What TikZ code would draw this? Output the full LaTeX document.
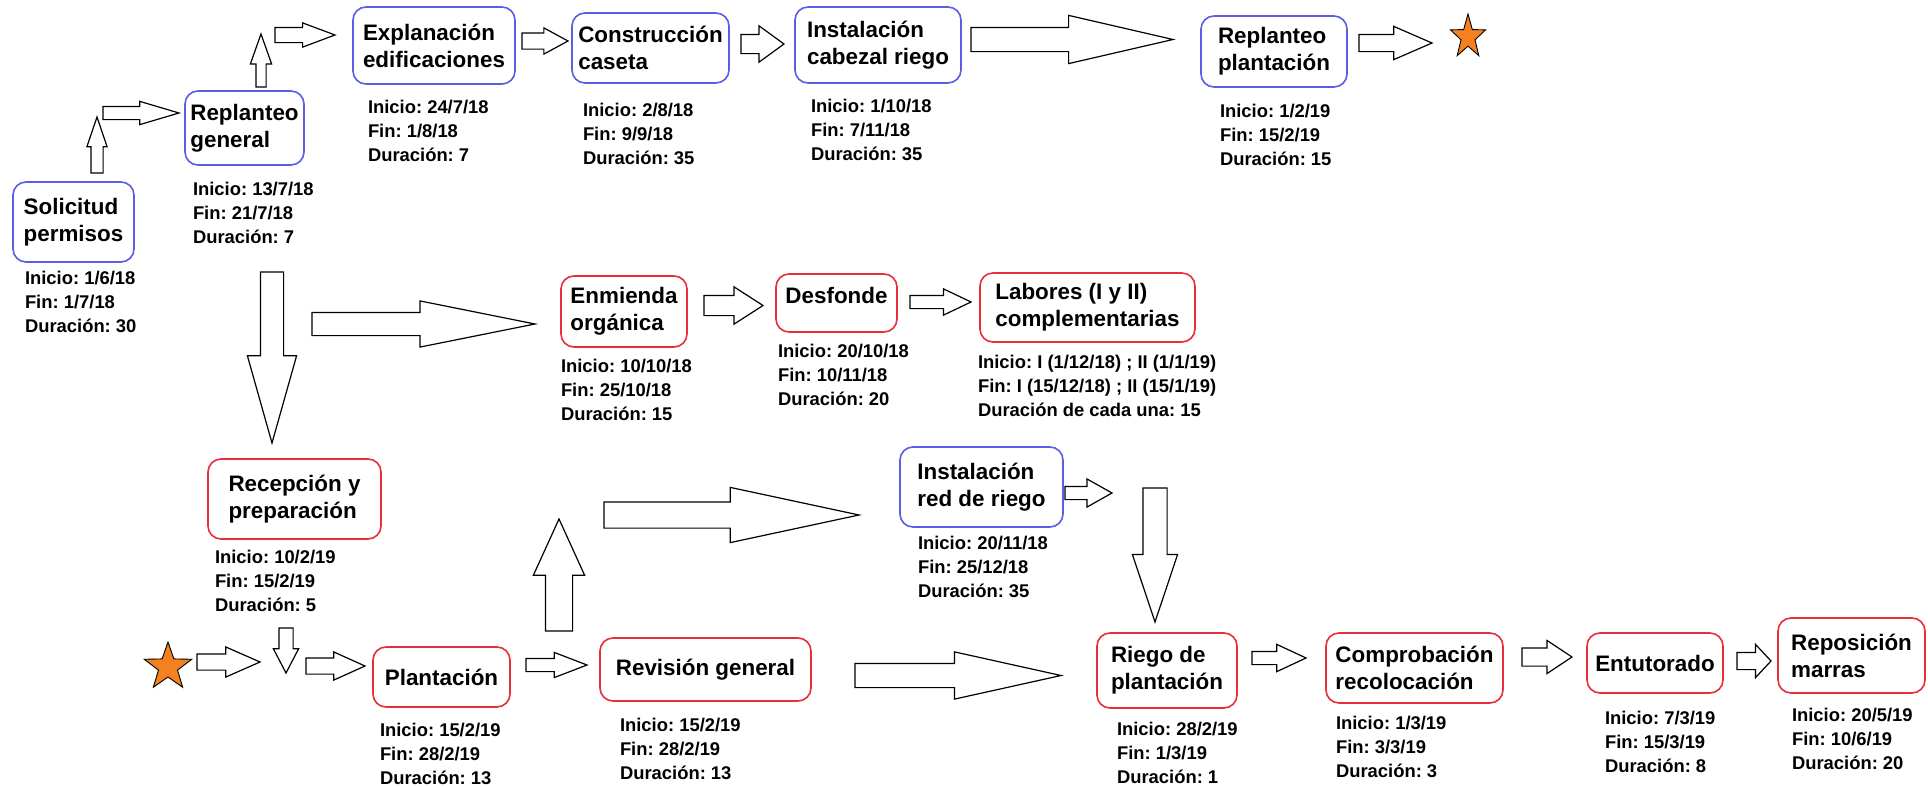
\documentclass[tikz,border=0pt]{standalone}
\usepackage{fontspec}
\setmainfont{Liberation Sans}
\frenchspacing
\usetikzlibrary{positioning,shapes.arrows,shapes.geometric}

\definecolor{boxblue}{RGB}{92,92,228}
\definecolor{boxred}{RGB}{232,46,58}
\definecolor{starorange}{RGB}{245,128,32}

\newcommand{\titlefont}{\fontsize{22.4}{27}\selectfont\bfseries}
\newcommand{\infofont}{\fontsize{18.4}{23.7}\selectfont\bfseries}

\tikzset{
  task/.style={rounded corners=13pt, line width=1.6pt, align=left, inner sep=0pt,
    outer sep=0pt, anchor=north west, font=\titlefont},
  bluebox/.style={task, draw=boxblue},
  redbox/.style={task, draw=boxred},
  dates/.style={align=left, inner sep=0pt, outer sep=0pt, font=\infofont},
  blkarrow/.style={single arrow, draw=black, fill=white, line width=1.2pt,
    outer sep=0pt, single arrow head indent=0pt, anchor=tail},
  % length, half shaft, head extend, tip angle, direction
  barrow/.style n args={5}{blkarrow, minimum height=#1pt, inner xsep=0pt, inner ysep=#2pt,
    single arrow head extend=#3pt, single arrow tip angle=#4, shape border rotate=#5},
  vbarrow/.style n args={5}{blkarrow, minimum height=#1pt, inner ysep=0pt, inner xsep=#2pt,
    single arrow head extend=#3pt, single arrow tip angle=#4, shape border rotate=#5},
  starmark/.style={star, star points=5, star point ratio=2.5, draw=black,
    fill=starorange, line width=0.9pt, inner sep=0pt}
}

\begin{document}
\begin{tikzpicture}[x=1pt, y=-1pt]
  \path[use as bounding box, fill=white] (0,0) rectangle (1928,787);

  % first row
  \node (solicitud) [bluebox, minimum width=121pt, minimum height=80pt] at (13,182) {Solicitud\\permisos};
  \node (solicitud-i) [dates, below right=9.6pt and 12pt of solicitud.south west] {Inicio: 1/6/18\\Fin: 1/7/18\\Duración: 30};
  \node (replanteo) [bluebox, minimum width=119pt, minimum height=74pt] at (185,91) {Replanteo\\general};
  \node (replanteo-i) [dates, below right=17.6pt and 8pt of replanteo.south west] {Inicio: 13/7/18\\Fin: 21/7/18\\Duración: 7};
  \node (explanacion) [bluebox, minimum width=162pt, minimum height=77pt] at (353,7) {Explanación\\edificaciones};
  \node (explanacion-i) [dates, below right=16.6pt and 15pt of explanacion.south west] {Inicio: 24/7/18\\Fin: 1/8/18\\Duración: 7};
  \node (caseta) [bluebox, minimum width=157pt, minimum height=70pt] at (572,13) {Construcción\\caseta};
  \node (caseta-i) [dates, below right=20.6pt and 11pt of caseta.south west] {Inicio: 2/8/18\\Fin: 9/9/18\\Duración: 35};
  \node (cabezal) [bluebox, minimum width=166pt, minimum height=76pt] at (795,7) {Instalación\\cabezal riego};
  \node (cabezal-i) [dates, below right=16.6pt and 16pt of cabezal.south west] {Inicio: 1/10/18\\Fin: 7/11/18\\Duración: 35};
  \node (marcado) [bluebox, minimum width=146pt, minimum height=71pt] at (1201,16) {Replanteo\\plantación};
  \node (marcado-i) [dates, below right=17.6pt and 19pt of marcado.south west] {Inicio: 1/2/19\\Fin: 15/2/19\\Duración: 15};

  % second row
  \node (enmienda) [redbox, minimum width=126pt, minimum height=71pt] at (561,276) {Enmienda\\orgánica};
  \node (enmienda-i) [dates, below right=12.6pt and 0pt of enmienda.south west] {Inicio: 10/10/18\\Fin: 25/10/18\\Duración: 15};
  \node (desfonde) [redbox, minimum width=121pt, minimum height=58pt, text depth=16pt] at (776,274) {Desfonde};
  \node (desfonde-i) [dates, below right=12.6pt and 2pt of desfonde.south west] {Inicio: 20/10/18\\Fin: 10/11/18\\Duración: 20};
  \node (labores) [redbox, minimum width=215pt, minimum height=69pt] at (980,273) {Labores (I y II)\\complementarias};
  \node (labores-i) [dates, below right=13.6pt and -2pt of labores.south west] {Inicio: I (1/12/18) ; II (1/1/19)\\Fin: I (15/12/18) ; II (15/1/19)\\Duración de cada una: 15};

  % third row
  \node (recepcion) [redbox, minimum width=173pt, minimum height=80pt] at (208,459) {Recepción y\\preparación};
  \node (recepcion-i) [dates, below right=11.6pt and 7pt of recepcion.south west] {Inicio: 10/2/19\\Fin: 15/2/19\\Duración: 5};
  \node (redriego) [bluebox, minimum width=163pt, minimum height=80pt] at (900,447) {Instalación\\red de riego};
  \node (redriego-i) [dates, below right=9.6pt and 18pt of redriego.south west] {Inicio: 20/11/18\\Fin: 25/12/18\\Duración: 35};
  \node (plantacion) [redbox, minimum width=137pt, minimum height=60pt] at (373,647) {Plantación};
  \node (plantacion-i) [dates, below right=16.6pt and 7pt of plantacion.south west] {Inicio: 15/2/19\\Fin: 28/2/19\\Duración: 13};
  \node (revision) [redbox, minimum width=211pt, minimum height=63pt] at (600,638) {Revisión general};
  \node (revision-i) [dates, below right=17.6pt and 20pt of revision.south west] {Inicio: 15/2/19\\Fin: 28/2/19\\Duración: 13};
  \node (riego) [redbox, minimum width=140pt, minimum height=75pt] at (1097,633) {Riego de\\plantación};
  \node (riego-i) [dates, below right=14.6pt and 20pt of riego.south west] {Inicio: 28/2/19\\Fin: 1/3/19\\Duración: 1};
  \node (comprobacion) [redbox, minimum width=177pt, minimum height=70pt] at (1326,633) {Comprobación\\recolocación};
  \node (comprobacion-i) [dates, below right=13.6pt and 10pt of comprobacion.south west] {Inicio: 1/3/19\\Fin: 3/3/19\\Duración: 3};
  \node (entutorado) [redbox, minimum width=136pt, minimum height=60pt] at (1587,633) {Entutorado};
  \node (entutorado-i) [dates, below right=18.6pt and 18pt of entutorado.south west] {Inicio: 7/3/19\\Fin: 15/3/19\\Duración: 8};
  \node (reposicion) [redbox, minimum width=147pt, minimum height=75pt] at (1778,618) {Reposición\\marras};
  \node (reposicion-i) [dates, below right=15.6pt and 14pt of reposicion.south west] {Inicio: 20/5/19\\Fin: 10/6/19\\Duración: 20};

  % stars
  \begin{scope}[shift={(1468,37)}, xscale=0.8]
    \node (fin) [starmark, minimum size=46pt, transform shape] at (0,0) {};
  \end{scope}
  \node (inicio) [starmark, minimum size=50pt] at (168,667) {};

  % block arrows
  \node (a1) [vbarrow={56}{5.5}{4}{37.5}{90}] at (97,173) {};
  \node (a2) [barrow={76}{6}{5}{33}{0}] at (103,113) {};
  \node (a3) [vbarrow={53}{4.5}{5.5}{39}{90}] at (261,87) {};
  \node (a4) [barrow={60}{7}{4.5}{41}{0}] at (275,35) {};
  \node (a5) [barrow={46}{7.5}{5}{57}{0}] at (522,41) {};
  \node (a6) [barrow={43}{9}{8.5}{72}{0}] at (741,44) {};
  \node (a7) [barrow={202}{11.5}{12}{26}{0}] at (971,39.5) {};
  \node (a8) [barrow={73}{8}{8}{47}{0}] at (1359,43) {};
  \node (a9) [vbarrow={171}{11}{13}{31.5}{270}] at (272,272) {};
  \node (a10) [barrow={223}{11}{11.5}{22.7}{0}] at (312,324) {};
  \node (a11) [barrow={59}{9.5}{8.5}{65.5}{0}] at (704,305.5) {};
  \node (a12) [barrow={61}{6}{6.5}{51}{0}] at (910,302) {};
  \node (a13) [vbarrow={45}{6.5}{5.5}{55}{270}] at (286,628) {};
  \node (a14) [barrow={63}{7.5}{7}{47.5}{0}] at (197,662) {};
  \node (a15) [barrow={59}{7.5}{6}{48.5}{0}] at (306,666) {};
  \node (a16) [vbarrow={112}{13}{12}{49}{90}] at (559,631) {};
  \node (a17) [barrow={255}{12.5}{14.5}{24.2}{0}] at (604,515) {};
  \node (a18) [barrow={61}{6}{6}{42}{0}] at (526,665) {};
  \node (a19) [barrow={47}{6}{7.5}{58.7}{0}] at (1065,493) {};
  \node (a20) [vbarrow={134}{11.5}{10.5}{37}{270}] at (1155,488) {};
  \node (a21) [barrow={206}{11.5}{11.5}{25}{0}] at (855,675.5) {};
  \node (a22) [barrow={54}{6}{7}{50}{0}] at (1252,658) {};
  \node (a23) [barrow={50}{8.5}{7.5}{67}{0}] at (1522,657) {};
  \node (a24) [barrow={34}{8}{8}{94}{0}] at (1737,661) {};
\end{tikzpicture}
\end{document}
